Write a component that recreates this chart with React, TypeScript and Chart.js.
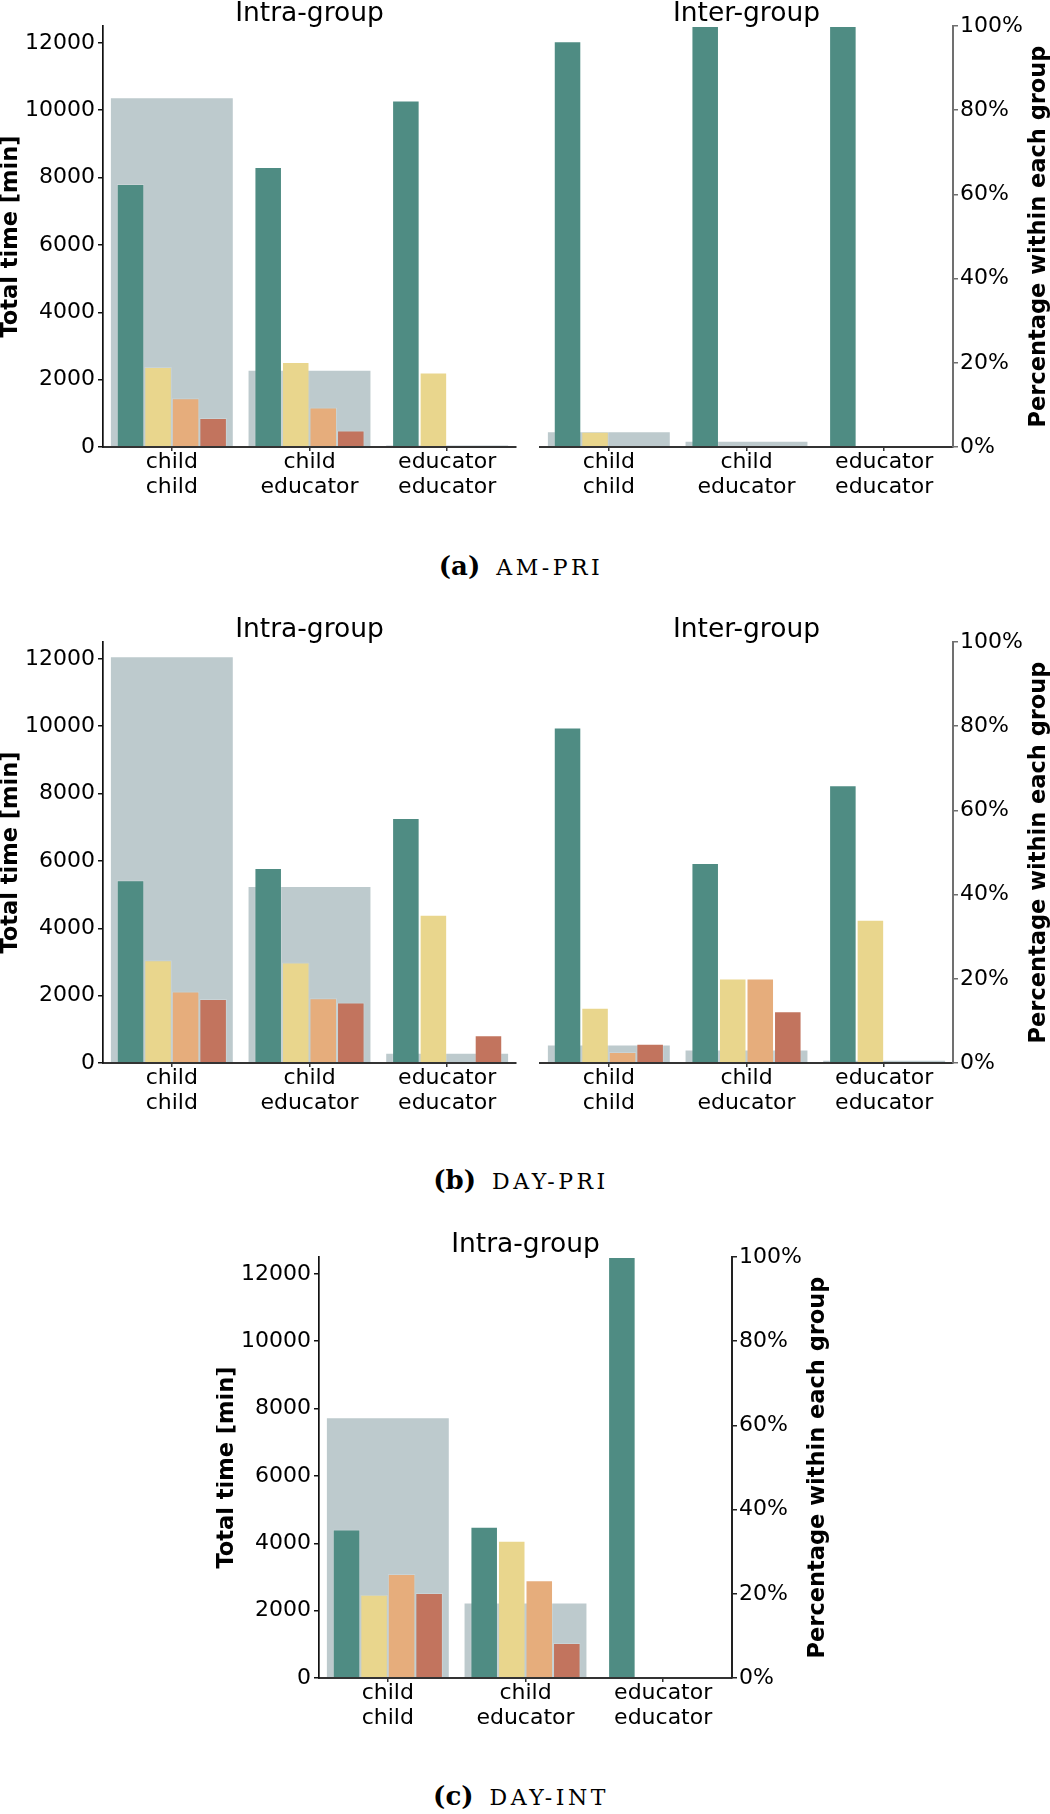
import React, { useEffect, useRef } from 'react';
import { Chart, registerables } from 'chart.js';

Chart.register(...registerables);

// ---------- data ----------
const categories = [['child', 'child'], ['child', 'educator'], ['educator', 'educator']];
const timeTicks = [0, 2000, 4000, 6000, 8000, 10000, 12000];
const pctTicks = [0, 20, 40, 60, 80, 100];
const timeMax = 12500;
const pctMax = 100;
const seriesNames = ['share 1', 'share 2', 'share 3', 'share 4'];
const seriesColors = ['#4f8c83', '#e9d68d', '#e6ad7c', '#c2745e'];
const totalColor = '#bdcacd';

// (a) AM-PRI
const amPriIntraTotal = [10384, 2291, 70];
const amPriIntraPct = [
  [62.5, 66.5, 82.3],
  [19.0, 20.2, 17.7],
  [11.6, 9.4, 0],
  [6.9, 3.9, 0],
];
const amPriInterTotal = [465, 188, 0];
const amPriInterPct = [
  [96.4, 100, 100],
  [3.6, 0, 0],
  [0, 0, 0],
  [0, 0, 0],
];

// (b) DAY-PRI
const dayPriIntraTotal = [12079, 5254, 306];
const dayPriIntraPct = [
  [43.4, 46.3, 58.2],
  [24.4, 23.9, 35.2],
  [17.0, 15.4, 0],
  [15.2, 14.4, 6.6],
];
const dayPriInterTotal = [551, 399, 94];
const dayPriInterPct = [
  [79.7, 47.5, 66.0],
  [13.1, 20.1, 34.0],
  [2.6, 20.1, 0],
  [4.6, 12.3, 0],
];

// (c) DAY-INT
const dayIntIntraTotal = [7744, 2244, 0];
const dayIntIntraPct = [
  [35.3, 35.9, 100],
  [19.8, 32.6, 0],
  [24.7, 23.2, 0],
  [20.2, 8.3, 0],
];

// ---------- layout ----------
const FONT = "'DejaVu Sans', sans-serif";
const PLOT_W = 413;
const TOP_PAD = 26;
const LEFT_AXIS_W = 103;
const RIGHT_AXIS_W = 97;
const BOTTOM_AXIS_H = 63;
const CANVAS_H = 510;

const subplotText = {
  id: 'subplotText',
  afterDraw(chart: any, _args: any, opts: any) {
    const { ctx, chartArea: a } = chart;
    ctx.save();
    ctx.fillStyle = '#000';
    ctx.font = `26.5px ${FONT}`;
    ctx.textAlign = 'center';
    ctx.textBaseline = 'alphabetic';
    ctx.fillText(opts.title, (a.left + a.right) / 2, a.top - 5.3);
    ctx.font = `bold 22.5px ${FONT}`;
    ctx.textBaseline = 'middle';
    const cy = (a.top + a.bottom) / 2;
    if (opts.leftLabel) {
      ctx.save();
      ctx.translate(a.left - 92, cy);
      ctx.rotate(-Math.PI / 2);
      ctx.fillText(opts.leftLabel, 0, 0);
      ctx.restore();
    }
    if (opts.rightLabel) {
      ctx.save();
      ctx.translate(a.right + 86, cy);
      ctx.rotate(-Math.PI / 2);
      ctx.fillText(opts.rightLabel, 0, 0);
      ctx.restore();
    }
    ctx.restore();
  },
};

type SubProps = {
  left: number;
  top: number;
  total: number[];
  pct: number[][];
  title: string;
  showLeft: boolean;
  showRight: boolean;
  padLeft: number;
  padRight: number;
  rightColor: string;
};

function Subplot(p: SubProps) {
  const ref = useRef<HTMLCanvasElement | null>(null);
  const width = p.padLeft + (p.showLeft ? LEFT_AXIS_W : 0) + PLOT_W + (p.showRight ? RIGHT_AXIS_W : 0) + p.padRight;

  useEffect(() => {
    if (!ref.current) return;
    const datasets: any[] = p.pct.map((vals, i) => ({
      label: seriesNames[i],
      data: vals,
      yAxisID: 'yPct',
      backgroundColor: seriesColors[i],
      borderColor: 'rgba(255,255,255,0.18)',
      borderWidth: 1,
      borderSkipped: 'start',
      categoryPercentage: 0.8,
      barPercentage: 1,
      grouped: true,
    }));
    datasets.push({
      label: 'Total time',
      data: p.total,
      yAxisID: 'yTime',
      backgroundColor: totalColor,
      borderColor: 'rgba(255,255,255,0.3)',
      borderWidth: 1,
      borderSkipped: 'start',
      grouped: false,
      categoryPercentage: 0.9,
      barPercentage: 1,
      order: 1,
    });
    const tickFont = { family: FONT, size: 22 };
    const chart = new Chart(ref.current, {
      type: 'bar',
      data: { labels: categories as any, datasets },
      options: {
        responsive: false,
        maintainAspectRatio: false,
        animation: false,
        layout: { padding: { top: TOP_PAD, left: p.padLeft, right: p.padRight, bottom: 0 } },
        plugins: {
          legend: { display: false },
          tooltip: { enabled: false },
          subplotText: {
            title: p.title,
            leftLabel: p.showLeft ? 'Total time [min]' : '',
            rightLabel: p.showRight ? 'Percentage within each group' : '',
          },
        } as any,
        scales: {
          x: {
            type: 'category',
            offset: true,
            grid: { offset: false, drawOnChartArea: false, drawTicks: true, tickLength: 4, color: '#333', lineWidth: 1.5 },
            border: { display: true, color: '#333', width: 2, z: 1 } as any,
            ticks: { color: '#000', font: { ...tickFont, lineHeight: 1.13 }, padding: -1, maxRotation: 0, autoSkip: false },
            afterFit: (s: any) => { s.height = BOTTOM_AXIS_H; },
          },
          yTime: {
            type: 'linear',
            position: 'left',
            display: p.showLeft,
            min: 0,
            max: timeMax,
            afterBuildTicks: (s: any) => { s.ticks = timeTicks.map((v) => ({ value: v })); },
            grid: { drawOnChartArea: false, drawTicks: true, tickLength: 5, color: '#111', lineWidth: 1.5 },
            border: { display: true, color: '#111', width: 1.7, z: 1 } as any,
            ticks: { color: '#000', font: tickFont, padding: 3, callback: (v: any) => String(v) },
            afterFit: (s: any) => { if (p.showLeft) s.width = LEFT_AXIS_W; },
          },
          yPct: {
            type: 'linear',
            position: 'right',
            display: p.showRight,
            min: 0,
            max: pctMax,
            afterBuildTicks: (s: any) => { s.ticks = pctTicks.map((v) => ({ value: v })); },
            grid: { drawOnChartArea: false, drawTicks: true, tickLength: 5, color: p.rightColor, lineWidth: 1.5 },
            border: { display: true, color: p.rightColor, width: 2, z: 1 } as any,
            ticks: { color: '#000', font: tickFont, padding: 2, callback: (v: any) => `${v}%` },
            afterFit: (s: any) => { if (p.showRight) s.width = RIGHT_AXIS_W; },
          },
        },
      },
      plugins: [subplotText as any],
    });
    return () => chart.destroy();
  }, []);

  return (
    <canvas
      ref={ref}
      width={width}
      height={CANVAS_H}
      style={{ position: 'absolute', left: p.left, top: p.top, width, height: CANVAS_H }}
    />
  );
}

function Caption({ top, letter, name }: { top: number; letter: string; name: string }) {
  return (
    <div
      style={{
        position: 'absolute',
        left: 0,
        top,
        width: 1042,
        textAlign: 'center',
        fontFamily: "'DejaVu Serif', 'Liberation Serif', serif",
        fontSize: 24,
        lineHeight: '24px',
        color: '#000',
        whiteSpace: 'nowrap',
      }}
    >
      <span style={{ fontWeight: 'bold', fontSize: 26 }}>({letter})</span>
      <span style={{ display: 'inline-block', width: 16 }} />
      <span style={{ fontSize: 22, letterSpacing: 3.5 }}>{name}</span>
    </div>
  );
}

export default function App() {
  return (
    <div style={{ position: 'absolute', left: 0, top: 0, width: 1050, height: 1814, background: '#fff', overflow: 'hidden' }}>
      <Subplot left={0} top={0} total={amPriIntraTotal} pct={amPriIntraPct} title="Intra-group" showLeft showRight={false} padLeft={0} padRight={4} rightColor="#707070" />
      <Subplot left={520} top={0} total={amPriInterTotal} pct={amPriInterPct} title="Inter-group" showLeft={false} showRight padLeft={20} padRight={0} rightColor="#707070" />
      <Caption top={554} letter="a" name="AM-PRI" />

      <Subplot left={0} top={616} total={dayPriIntraTotal} pct={dayPriIntraPct} title="Intra-group" showLeft showRight={false} padLeft={0} padRight={4} rightColor="#707070" />
      <Subplot left={520} top={616} total={dayPriInterTotal} pct={dayPriInterPct} title="Inter-group" showLeft={false} showRight padLeft={20} padRight={0} rightColor="#707070" />
      <Caption top={1168} letter="b" name="DAY-PRI" />

      <Subplot left={216} top={1231} total={dayIntIntraTotal} pct={dayIntIntraPct} title="Intra-group" showLeft showRight padLeft={0} padRight={0} rightColor="#222" />
      <Caption top={1784} letter="c" name="DAY-INT" />
    </div>
  );
}
